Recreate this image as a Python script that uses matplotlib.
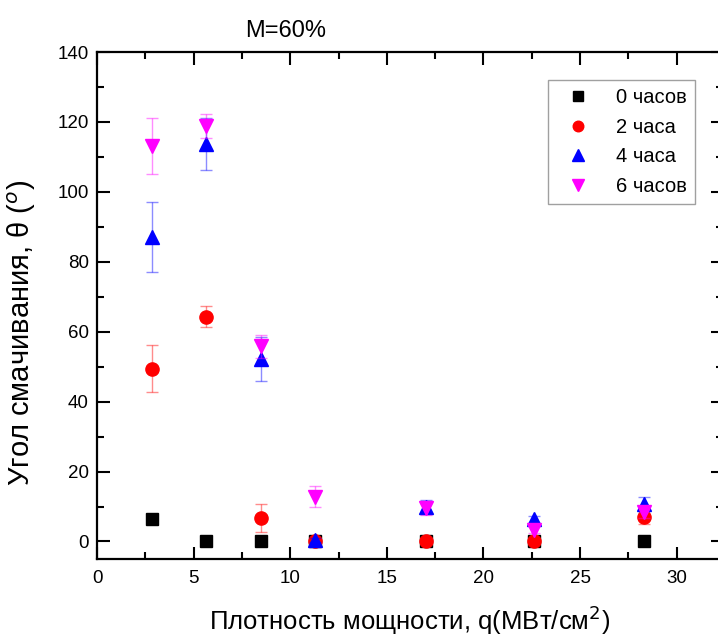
import matplotlib
matplotlib.use("Agg")
import matplotlib.pyplot as plt
from matplotlib.ticker import MultipleLocator

# ---------------------------------------------------------------
#   DATA
# ---------------------------------------------------------------
q_vals = [2.83, 5.66, 8.49, 11.3, 17.0, 22.6, 28.3]

theta_0h = [6.5, 0.0, 0.0, 0.0, 0.0, 0.0, 0.0]
err_0h   = [1.5, 0.3, 0.3, 0.3, 0.3, 0.3, 0.3]

theta_2h = [49.4, 64.3, 6.6, 0.0, 0.0, 0.0, 7.1]
err_2h   = [6.7, 3.0, 4.0, 0.5, 0.5, 0.5, 2.0]

theta_4h = [87.2, 113.7, 52.3, 0.4, 10.0, 6.3, 10.8]
err_4h   = [10.0, 7.4, 6.3, 0.5, 2.0, 1.0, 2.0]

theta_6h = [113.1, 118.9, 55.8, 12.8, 9.6, 3.4, 8.3]
err_6h   = [8.0, 3.4, 3.3, 3.0, 2.0, 1.0, 1.5]

LABELS = ["0 часов", "2 часа", "4 часа", "6 часов"]

# ---------------------------------------------------------------
#   PLOT
# ---------------------------------------------------------------
plt.rcParams['font.family'] = ['Liberation Sans', 'DejaVu Sans']

fig = plt.figure(figsize=(7.18, 6.36), dpi=100)
ax = fig.add_axes([0.1351, 0.1211, 0.872, 0.7971])

series = [
    (theta_0h, err_0h, "s", "black", 8.5),
    (theta_2h, err_2h, "o", "red", 9.5),
    (theta_4h, err_4h, "^", "blue", 10),
    (theta_6h, err_6h, "v", "magenta", 10),
]

handles = []
for (vals, errs, mk, col, ms), lab in zip(series, LABELS):
    ax.errorbar(q_vals, vals, yerr=errs, fmt="none", ecolor=col,
                elinewidth=1.0, capsize=4, capthick=1.0, alpha=0.45)
    h, = ax.plot(q_vals, vals, linestyle="none", marker=mk, color=col,
                 markersize=ms, label=lab)
    handles.append(h)

ax.set_xlim(0, 32.4)
ax.set_ylim(-5, 140)
ax.xaxis.set_major_locator(MultipleLocator(5))
ax.xaxis.set_minor_locator(MultipleLocator(2.5))
ax.yaxis.set_major_locator(MultipleLocator(20))
ax.yaxis.set_minor_locator(MultipleLocator(10))

ax.tick_params(which="both", direction="in", top=True, right=True,
               labelsize=13.5, width=1.5)
ax.tick_params(which="major", length=9)
ax.tick_params(which="minor", length=5)
ax.tick_params(axis="x", pad=8)
ax.tick_params(axis="y", pad=6)
for sp in ax.spines.values():
    sp.set_linewidth(1.6)

leg = ax.legend(handles=handles, loc="upper left",
                bbox_to_anchor=(0.704, 0.964), fontsize=14.5,
                frameon=True, fancybox=False, handletextpad=0.8,
                borderpad=0.4, labelspacing=0.52, handlelength=2.2,
                markerscale=0.8)
leg.get_frame().set_edgecolor("#888888")
leg.get_frame().set_linewidth(1.0)

fig.text(286 / 718, 1 - 31 / 636, "M=60%", fontsize=17,
         ha="center", va="center")
fig.text(410 / 718, 1 - 620 / 636,
         "Плотность мощности, q(МВт/см$^{2}$)", fontsize=18.5,
         ha="center", va="center")
fig.text(22 / 718, 1 - 333 / 636,
         "Угол смачивания, θ ($^{o}$)", fontsize=21,
         ha="center", va="center", rotation=90)

fig.savefig("out.png", dpi=100)
